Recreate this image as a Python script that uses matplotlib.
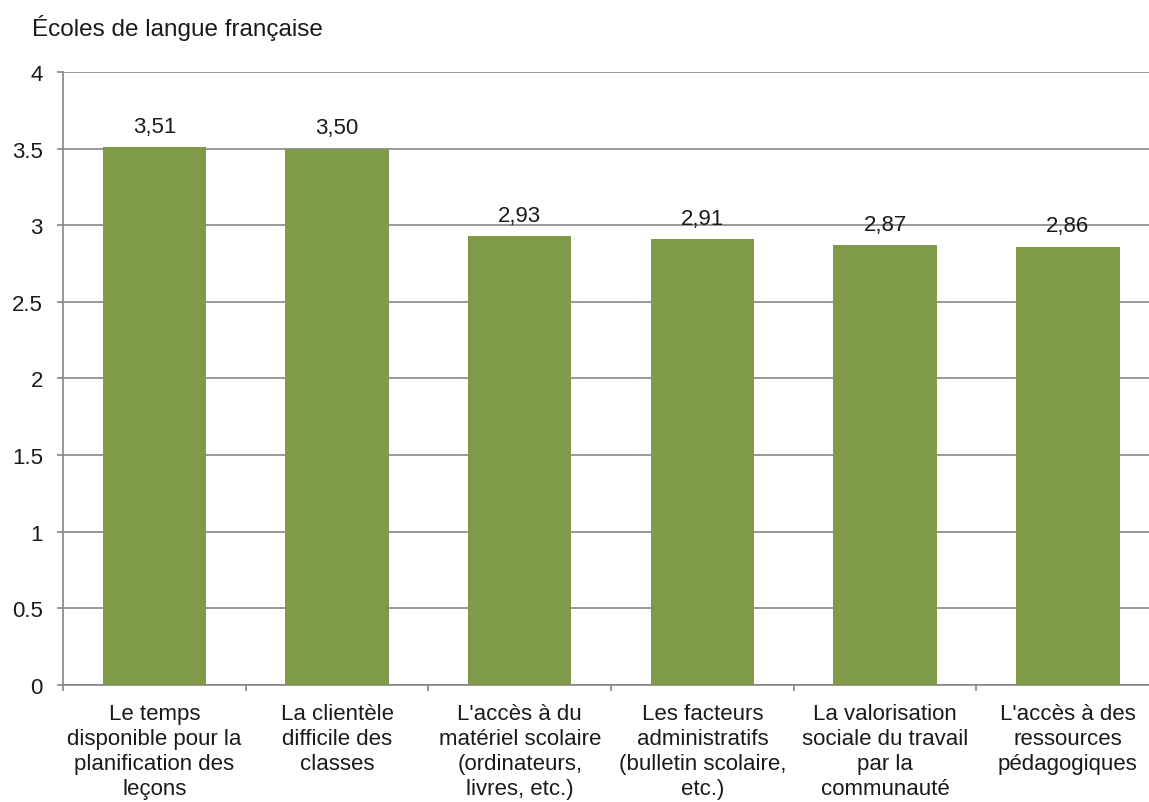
import matplotlib.pyplot as plt
import numpy as np

plt.rcParams['font.family'] = ['Liberation Sans', 'DejaVu Sans']

categories = [
    "Le temps\ndisponible pour la\nplanification des\nleçons",
    "La clientèle\ndifficile des\nclasses",
    "L'accès à du\nmatériel scolaire\n(ordinateurs,\nlivres, etc.)",
    "Les facteurs\nadministratifs\n(bulletin scolaire,\netc.)",
    "La valorisation\nsociale du travail\npar la\ncommunauté",
    "L'accès à des\nressources\npédagogiques",
]
values = [3.51, 3.50, 2.93, 2.91, 2.87, 2.86]
value_labels = ["3,51", "3,50", "2,93", "2,91", "2,87", "2,86"]
yticks = [0, 0.5, 1, 1.5, 2, 2.5, 3, 3.5, 4]
ytick_labels = ["0", "0.5", "1", "1.5", "2", "2.5", "3", "3.5", "4"]

fs = 16
txt_color = '#1a1a1a'
grid_color = '#868686'

fig = plt.figure(figsize=(11.49, 8.03), dpi=100)
# plot area runs past the right edge of the picture, as in the reference
ax = fig.add_axes([0.0548, 0.1457, 0.954, 0.7634])

x = np.arange(len(values))
ax.bar(x, values, width=0.567, color='#7F9A48', zorder=3)

for xi, v, lab in zip(x, values, value_labels):
    ax.annotate(lab, (xi, v), xytext=(0, 15), textcoords='offset points',
                ha='center', va='center', fontsize=fs, color=txt_color, zorder=4)

ax.set_xlim(-0.5, len(values) - 0.5)
ax.set_ylim(0, 4)
ax.set_yticks(yticks)
ax.set_yticklabels(ytick_labels, fontsize=fs, color=txt_color)
ax.yaxis.grid(True, color=grid_color, linewidth=1.2, zorder=0)

# ticks at category boundaries, labels at centres
ax.set_xticks(np.arange(-0.5, len(values)))
ax.set_xticklabels([])
ax.set_xticks(x, minor=True)
ax.set_xticklabels(categories, minor=True, fontsize=fs, color=txt_color, linespacing=1.25)
ax.tick_params(axis='x', which='minor', length=0, pad=13)
ax.tick_params(axis='x', which='major', length=4.5, width=1.2, color=grid_color, direction='out')
ax.tick_params(axis='y', length=4.5, width=1.2, color=grid_color, direction='out', pad=10)

for s in ['top', 'right']:
    ax.spines[s].set_visible(False)
for s in ['left', 'bottom']:
    ax.spines[s].set_color(grid_color)
    ax.spines[s].set_linewidth(1.2)

fig.text(0.028, 0.965, "Écoles de langue française", fontsize=17.5, color=txt_color, va='center')

plt.savefig('out.png', dpi=100)
